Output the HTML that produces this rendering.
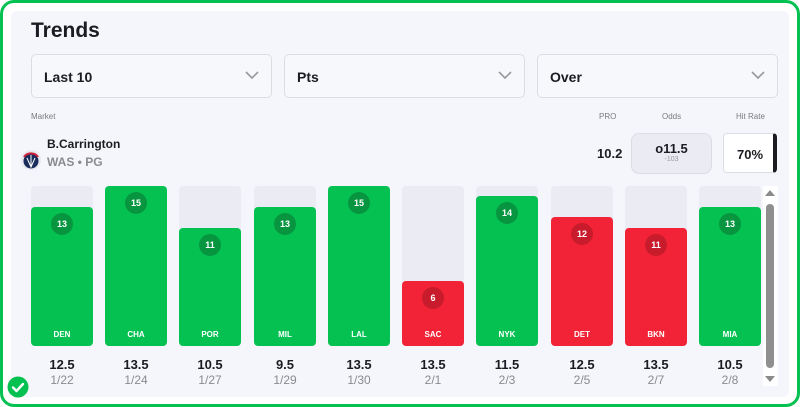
<!DOCTYPE html>
<html><head><style>
*{margin:0;padding:0;box-sizing:border-box}
body{width:800px;height:407px;background:#fff;font-family:"Liberation Sans",sans-serif;position:relative;overflow:hidden}
.outer{position:absolute;left:0;top:0;width:800px;height:407px;border:3px solid #05c152;border-radius:14px;background:#fff}
.panel{position:absolute;left:11px;top:11px;width:778px;height:386px;background:#f5f6fb;border-radius:6px}
.abs{position:absolute}
.dd{position:absolute;top:54px;height:44px;width:241px;border:1px solid #dcdde2;border-radius:5px;background:#f7f8fc;font-weight:bold;font-size:14px;color:#1b1b22;padding:14px 0 0 12px}
.dd svg{position:absolute;right:12px;top:16px}
.col{position:absolute;top:186px;width:62px;height:160px;background:#ebebf3;border-radius:4px}
.bar{position:absolute;left:0;bottom:0;width:62px;border-radius:4px}
.g{background:#05c152}.r{background:#f22336}
.badge{position:absolute;left:20px;top:6px;width:22px;height:22px;border-radius:50%;color:#fff;font-size:9px;font-weight:bold;text-align:center;line-height:22px}
.g .badge{background:#07963f}.r .badge{background:#c81b2b}
.team{position:absolute;bottom:7px;width:62px;text-align:center;color:#fff;font-size:8px;font-weight:bold}
.ln{position:absolute;top:357px;width:62px;text-align:center;font-size:13px;font-weight:bold;color:#1b1b22}
.dt{position:absolute;top:373px;width:62px;text-align:center;font-size:12px;color:#8a8a90}
.small{font-size:8px;color:#7a7a80}
</style></head><body>
<div class="outer"></div>
<div class="panel"></div>
<div class="abs" style="left:31px;top:19px;font-size:21px;font-weight:bold;color:#1b1b22">Trends</div>
<div class="dd" style="left:31px">Last 10<svg width="14" height="9"><path d="M1 1l6 6 6-6" stroke="#999" stroke-width="1.6" fill="none"/></svg></div>
<div class="dd" style="left:284px">Pts<svg width="14" height="9"><path d="M1 1l6 6 6-6" stroke="#999" stroke-width="1.6" fill="none"/></svg></div>
<div class="dd" style="left:537px">Over<svg width="14" height="9"><path d="M1 1l6 6 6-6" stroke="#999" stroke-width="1.6" fill="none"/></svg></div>
<div class="abs small" style="left:31px;top:112px">Market</div>
<div class="abs small" style="left:599px;top:112px">PRO</div>
<div class="abs small" style="left:662px;top:112px">Odds</div>
<div class="abs small" style="left:736px;top:112px">Hit Rate</div>
<div class="abs" style="left:47px;top:137px;font-size:12px;font-weight:bold;color:#1b1b22">B.Carrington</div>
<div class="abs" style="left:47px;top:155px;font-size:12px;font-weight:bold;color:#8a8a90">WAS • PG</div>
<svg class="abs" style="left:21px;top:150px" width="20" height="20"><circle cx="10" cy="10" r="10" fill="#e8e8ee"/><circle cx="10" cy="11" r="7.5" fill="#1a2c5b"/><path d="M3 7a8 7 0 0 1 14 0" stroke="#d0213c" stroke-width="2" fill="none"/><path d="M10 5v12M6 8l4 9 4-9" stroke="#fff" stroke-width="1" fill="none"/></svg>
<div class="abs" style="left:597px;top:146px;font-size:13px;font-weight:bold;color:#1b1b22">10.2</div>
<div class="abs" style="left:631px;top:133px;width:81px;height:41px;border:1px solid #dcdde2;border-radius:8px;background:#ebebf3;text-align:center"><div style="font-size:13px;font-weight:bold;color:#1b1b22;margin-top:7px">o11.5</div><div style="font-size:7px;color:#999">-103</div></div>
<div class="abs" style="left:723px;top:133px;width:54px;height:40px;border:1px solid #dcdde2;border-radius:4px;background:#fff;border-right:4px solid #1b1b22;font-size:13px;font-weight:bold;color:#1b1b22;padding:13px 0 0 13px">70%</div>

<div class="col" style="left:31px"><div class="bar g" style="height:139px"><div class="badge">13</div><div class="team">DEN</div></div></div>
<div class="col" style="left:105px"><div class="bar g" style="height:160px"><div class="badge">15</div><div class="team">CHA</div></div></div>
<div class="col" style="left:179px"><div class="bar g" style="height:118px"><div class="badge">11</div><div class="team">POR</div></div></div>
<div class="col" style="left:254px"><div class="bar g" style="height:139px"><div class="badge">13</div><div class="team">MIL</div></div></div>
<div class="col" style="left:328px"><div class="bar g" style="height:160px"><div class="badge">15</div><div class="team">LAL</div></div></div>
<div class="col" style="left:402px"><div class="bar r" style="height:65px"><div class="badge">6</div><div class="team">SAC</div></div></div>
<div class="col" style="left:476px"><div class="bar g" style="height:150px"><div class="badge">14</div><div class="team">NYK</div></div></div>
<div class="col" style="left:551px"><div class="bar r" style="height:129px"><div class="badge">12</div><div class="team">DET</div></div></div>
<div class="col" style="left:625px"><div class="bar r" style="height:118px"><div class="badge">11</div><div class="team">BKN</div></div></div>
<div class="col" style="left:699px"><div class="bar g" style="height:139px"><div class="badge">13</div><div class="team">MIA</div></div></div>

<div class="ln" style="left:31px">12.5</div><div class="dt" style="left:31px">1/22</div>
<div class="ln" style="left:105px">13.5</div><div class="dt" style="left:105px">1/24</div>
<div class="ln" style="left:179px">10.5</div><div class="dt" style="left:179px">1/27</div>
<div class="ln" style="left:254px">9.5</div><div class="dt" style="left:254px">1/29</div>
<div class="ln" style="left:328px">13.5</div><div class="dt" style="left:328px">1/30</div>
<div class="ln" style="left:402px">13.5</div><div class="dt" style="left:402px">2/1</div>
<div class="ln" style="left:476px">11.5</div><div class="dt" style="left:476px">2/3</div>
<div class="ln" style="left:551px">12.5</div><div class="dt" style="left:551px">2/5</div>
<div class="ln" style="left:625px">13.5</div><div class="dt" style="left:625px">2/7</div>
<div class="ln" style="left:699px">10.5</div><div class="dt" style="left:699px">2/8</div>

<div class="abs" style="left:763px;top:186px;width:15px;height:200px;background:#fff"></div>
<svg class="abs" style="left:764px;top:189px" width="12" height="8"><path d="M1 7L6 1l5 6z" fill="#8a8a8a"/></svg>
<div class="abs" style="left:766px;top:204px;width:8px;height:164px;border-radius:4px;background:#8f8f8f"></div>
<svg class="abs" style="left:764px;top:375px" width="12" height="8"><path d="M1 1L6 7l5-6z" fill="#8a8a8a"/></svg>

<svg class="abs" style="left:7px;top:376px" width="22" height="22"><circle cx="11" cy="11" r="10.5" fill="#05c152"/><path d="M6 11.5l3.5 3.5 6.5-7" stroke="#fff" stroke-width="2.4" fill="none" stroke-linecap="round" stroke-linejoin="round"/></svg>
</body></html>
